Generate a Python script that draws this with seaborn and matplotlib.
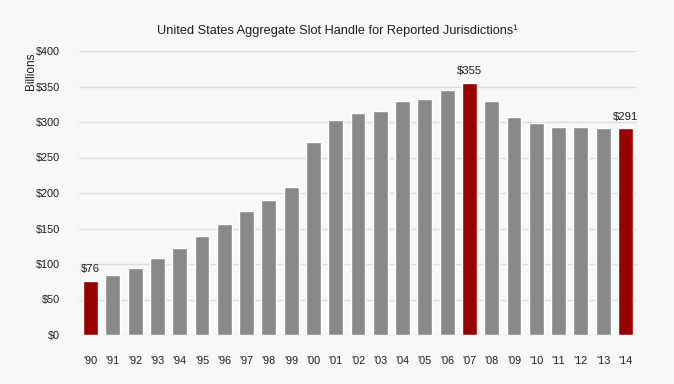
import pandas as pd
import numpy as np
import seaborn as sns
import matplotlib.pyplot as plt

years = ["'90", "'91", "'92", "'93", "'94", "'95", "'96", "'97", "'98", "'99",
         "'00", "'01", "'02", "'03", "'04", "'05", "'06", "'07", "'08", "'09",
         "'10", "'11", "'12", "'13", "'14"]
handle = [76, 84, 95, 109, 123, 139, 157, 174, 190, 209,
          272, 303, 312, 315, 329, 332, 345, 355, 330, 307,
          299, 293, 293, 292, 291]
highlight = ["'90", "'07", "'14"]
y_ticks = [0, 50, 100, 150, 200, 250, 300, 350, 400]

df = pd.DataFrame({"year": years, "handle": handle})
df["hl"] = df["year"].isin(highlight)

sns.set_style("white")
plt.rcParams["font.family"] = ["Liberation Sans", "DejaVu Sans"]

bg = "#f8f8f8"
txt = "#1e1e1e"
fig = plt.figure(figsize=(6.74, 3.84), dpi=100, facecolor=bg)
ax = fig.add_axes([79 / 674, 1 - 335 / 384, (637 - 79) / 674, (335 - 51) / 384])
ax.set_facecolor(bg)

colors = ["#990000" if h else "#898989" for h in df["hl"]]
sns.barplot(data=df, x="year", y="handle", hue="year", palette=colors,
            legend=False, width=0.67, saturation=1, ax=ax, zorder=3)

ax.set_ylim(0, 400)
ax.set_xlim(-0.52, len(years) - 0.48)
ax.set_yticks(y_ticks)
ax.set_yticklabels([f"${v}" for v in y_ticks])
ax.yaxis.grid(True, color="#dddddd", linewidth=1, zorder=0)
ax.set_axisbelow(True)
sns.despine(ax=ax, left=True, bottom=True, top=True, right=True)
ax.tick_params(axis="both", length=0, labelsize=7.8, colors=txt)
ax.tick_params(axis="y", pad=13.5)
ax.tick_params(axis="x", pad=15)
ax.set_xlabel("")
ax.set_ylabel("")

for i, row in df.iterrows():
    if row["hl"]:
        ax.annotate(f"${row['handle']}", (i, row["handle"]), xytext=(0, 8.5),
                    textcoords="offset points", ha="center", va="center",
                    fontsize=8.2, color=txt)

fig.text(31 / 674, 1 - 71 / 384, "Billions", rotation=90, ha="center",
         va="center", fontsize=8.5, color=txt)
fig.text(0.5, 1 - 31 / 384, "United States Aggregate Slot Handle for Reported Jurisdictions\u00b9",
         ha="center", va="center", fontsize=9.2, color=txt)

plt.savefig("out.png", dpi=100, facecolor=bg)
